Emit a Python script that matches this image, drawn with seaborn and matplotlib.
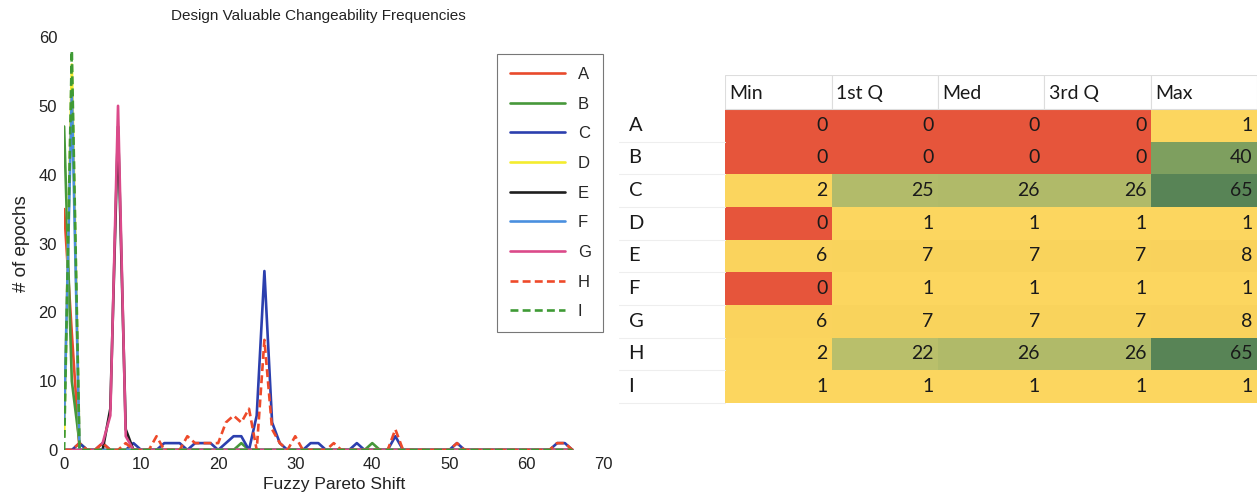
import numpy as np
import pandas as pd
import matplotlib
matplotlib.use('Agg')
import matplotlib.pyplot as plt
from matplotlib.colors import LinearSegmentedColormap
from matplotlib.patches import Rectangle
import seaborn as sns

# ─── Data ─────────────────────────────────────────────────────────────────────
designs = ['A', 'B', 'C', 'D', 'E', 'F', 'G', 'H', 'I']
shift_max = 66

# non-zero counts per design: {shift: # of epochs}
counts_A = {0: 35, 1: 17}
counts_B = {0: 47, 1: 10, 2: 1, 23: 1, 40: 1}
counts_C = {2: 1, 5: 1, 9: 1, 13: 1, 14: 1, 15: 1, 17: 1, 18: 1, 19: 1,
            21: 1, 22: 2, 23: 2, 25: 5, 26: 26, 27: 4, 28: 1, 32: 1, 33: 1,
            38: 1, 43: 2, 51: 1, 64: 1, 65: 1}
counts_D = {0: 2, 1: 56}
counts_E = {6: 6, 7: 47, 8: 3}
counts_F = {0: 4, 1: 52}
counts_G = {5: 1, 6: 5, 7: 50, 8: 2}
counts_H = {2: 1, 5: 1, 8: 1, 12: 2, 16: 2, 17: 1, 18: 1, 19: 1, 20: 1,
            21: 4, 22: 5, 23: 4, 24: 6, 26: 16, 27: 3, 28: 1, 30: 2, 35: 1,
            43: 3, 51: 1, 64: 1, 65: 1}
counts_I = {1: 58}

# summary table
stat_cols = ['Min', '1st Q', 'Med', '3rd Q', 'Max']
stat_min = [0, 0, 2, 0, 6, 0, 6, 2, 1]
stat_q1  = [0, 0, 25, 1, 7, 1, 7, 22, 1]
stat_med = [0, 0, 26, 1, 7, 1, 7, 26, 1]
stat_q3  = [0, 0, 26, 1, 7, 1, 7, 26, 1]
stat_max = [1, 40, 65, 1, 8, 1, 8, 65, 1]

# ─── Build frames ─────────────────────────────────────────────────────────────
all_counts = [counts_A, counts_B, counts_C, counts_D, counts_E,
              counts_F, counts_G, counts_H, counts_I]
rows = []
for name, cnt in zip(designs, all_counts):
    for s in range(shift_max + 1):
        rows.append((name, s, cnt.get(s, 0)))
df = pd.DataFrame(rows, columns=['design', 'shift', 'epochs'])

stats = pd.DataFrame({'Min': stat_min, '1st Q': stat_q1, 'Med': stat_med,
                      '3rd Q': stat_q3, 'Max': stat_max}, index=designs)[stat_cols]

palette = {'A': '#E84A2C', 'B': '#47983A', 'C': '#2C3FAE', 'D': '#F4EC2E',
           'E': '#1E1E1E', 'F': '#4A8FDF', 'G': '#DB4A8A', 'H': '#EE4A2A',
           'I': '#3F9A35'}
dashes = {d: '' for d in designs}
dashes['H'] = (3, 1.6)
dashes['I'] = (3, 1.6)

# ─── Figure ───────────────────────────────────────────────────────────────────
sns.set_style('white')
plt.rcParams['font.family'] = ['Liberation Sans', 'DejaVu Sans']
fig = plt.figure(figsize=(12.57, 5.0), dpi=100)

# left: line chart
ax = fig.add_axes([0.051, 0.10, 0.429, 0.826])
sns.lineplot(data=df, x='shift', y='epochs', hue='design', style='design',
             palette=palette, dashes=dashes, linewidth=1.9, ax=ax,
             hue_order=designs, style_order=designs)
ax.set_xlim(0, 70)
ax.set_ylim(0, 60)
ax.set_xticks(range(0, 71, 10))
ax.set_yticks(range(0, 61, 10))
ax.tick_params(length=0, labelsize=12, colors='#222222', pad=5)
for sp in ax.spines.values():
    sp.set_visible(False)
ax.set_title('Design Valuable Changeability Frequencies', fontsize=11,
             color='#222222', pad=12, x=0.472)
ax.set_xlabel('Fuzzy Pareto Shift', fontsize=12.5, color='#222222', labelpad=4)
ax.set_ylabel('# of epochs', fontsize=13.5, color='#222222', labelpad=6)
leg = ax.legend(loc='upper right', bbox_to_anchor=(1.0, 0.958), fontsize=12,
                handlelength=3.3, labelspacing=0.88, handletextpad=0.8,
                borderpad=0.75, borderaxespad=0, frameon=True, fancybox=False,
                title=None)
leg.get_frame().set_edgecolor('#555555')
leg.get_frame().set_linewidth(0.8)

# right: summary table as heatmap
cmap = LinearSegmentedColormap.from_list('excel', [
    (0.0, '#E6553B'), (0.4 / 65, '#FCD65F'), (8 / 65, '#F9D25C'),
    (22 / 65, '#B9BF6B'), (26 / 65, '#B0BA69'), (40 / 65, '#7E9F5F'),
    (1.0, '#588456')], N=1024)
tx = fig.add_axes([0.577, 0.194, 0.423, 0.656])
sns.heatmap(stats, cmap=cmap, vmin=0, vmax=65, cbar=False, ax=tx,
            linewidths=0)
tx.set_ylim(9, -1.04)
tx.set_xlim(0, 5)
tx.set_xticks([])
tx.set_yticks([])
tx.set_xlabel('')
tx.set_ylabel('')
for sp in tx.spines.values():
    sp.set_visible(False)

tfont = ['Lato', 'DejaVu Sans']
for j, col in enumerate(stat_cols):
    tx.add_patch(Rectangle((j, -1.04), 1, 1.04, facecolor='white',
                           edgecolor='#dddddd', linewidth=0.8))
    tx.text(j + 0.04, -0.47, col, ha='left', va='center', fontsize=14,
            family=tfont, color='#1a1a1a')
    for i in range(len(designs)):
        tx.text(j + 0.96, i + 0.5, str(stats.iloc[i, j]), ha='right',
                va='center', fontsize=14, family=tfont, color='#1a1a1a')

for i, d in enumerate(designs):
    tx.text(-0.91, i + 0.5, d, ha='left', va='center', fontsize=14.5,
            family=tfont, color='#1a1a1a', clip_on=False)
    tx.plot([-1.0, 0], [i + 1, i + 1], color='#eeeeee', linewidth=0.8,
            clip_on=False)

fig.savefig('out.png', dpi=100)
